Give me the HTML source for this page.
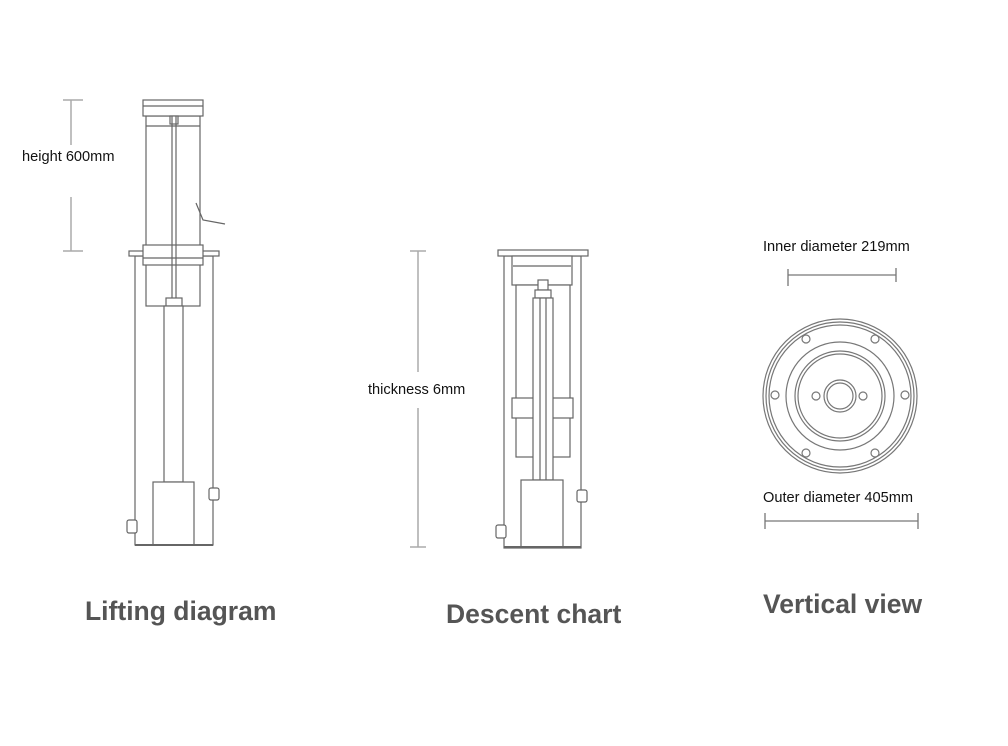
<!DOCTYPE html>
<html><head><style>
body{margin:0;background:#fff}
svg{display:block}
text{font-family:"Liberation Sans",sans-serif}
</style></head><body>
<svg width="1008" height="746" viewBox="0 0 1008 746" xmlns="http://www.w3.org/2000/svg">
<rect width="1008" height="746" fill="#fff"/>
<g stroke="#aaa" stroke-width="1.5" fill="none">
<line x1="71" y1="100" x2="71" y2="145"/><line x1="71" y1="197" x2="71" y2="251"/>
<line x1="63" y1="100" x2="83" y2="100"/><line x1="63" y1="251" x2="83" y2="251"/>
<line x1="418" y1="251" x2="418" y2="372"/><line x1="418" y1="408" x2="418" y2="547"/>
<line x1="410" y1="251" x2="426" y2="251"/><line x1="410" y1="547" x2="426" y2="547"/>
</g>
<g stroke="#777" stroke-width="1.3" fill="none">
<line x1="788" y1="275" x2="896" y2="275"/><line x1="788" y1="269" x2="788" y2="286"/><line x1="896" y1="268" x2="896" y2="282"/>
<line x1="765" y1="521" x2="918" y2="521"/><line x1="765" y1="513" x2="765" y2="529"/><line x1="918" y1="513" x2="918" y2="529"/>
</g>
<g stroke="#666" stroke-width="1.2" fill="#fff">
<rect x="135" y="256" width="78" height="289"/>
<rect x="146" y="116" width="54" height="190"/>
<rect x="143" y="100" width="60" height="16"/>
<line x1="143" y1="106" x2="203" y2="106"/>
<line x1="146" y1="126" x2="200" y2="126"/>
<rect x="170" y="116" width="8" height="8"/>
<rect x="129" y="251" width="90" height="5"/>
<rect x="143" y="245" width="60" height="20"/>
<line x1="143" y1="258" x2="203" y2="258"/>
<line x1="172" y1="116" x2="172" y2="298"/><line x1="176" y1="116" x2="176" y2="298"/>
<rect x="166" y="298" width="16" height="8"/>
<rect x="164" y="306" width="19" height="176"/>
<rect x="153" y="482" width="41" height="63"/>
<rect x="209" y="488" width="10" height="12" rx="2"/>
<rect x="127" y="520" width="10" height="13" rx="2"/>
<line x1="135" y1="545" x2="213" y2="545" stroke-width="2"/>
<polyline points="196,203 203,220 225,224" fill="none"/>
<rect x="504" y="256" width="77" height="292"/>
<rect x="498" y="250" width="90" height="6"/>
<rect x="512" y="256" width="60" height="29"/>
<line x1="513" y1="266" x2="571" y2="266"/>
<rect x="516" y="285" width="54" height="172"/>
<rect x="512" y="398" width="61" height="20"/>
<rect x="538" y="280" width="10" height="10"/>
<rect x="535" y="290" width="16" height="8"/>
<rect x="533" y="298" width="20" height="182"/>
<line x1="540" y1="298" x2="540" y2="480"/><line x1="546" y1="298" x2="546" y2="480"/>
<rect x="521" y="480" width="42" height="67"/>
<rect x="577" y="490" width="10" height="12" rx="2"/>
<rect x="496" y="525" width="10" height="13" rx="2"/>
<line x1="504" y1="547" x2="581" y2="547" stroke-width="2"/>
</g>
<g stroke="#777" stroke-width="1.2" fill="none">
<circle cx="840" cy="396" r="77"/>
<circle cx="840" cy="396" r="74"/>
<circle cx="840" cy="396" r="71"/>
<circle cx="840" cy="396" r="54"/>
<circle cx="840" cy="396" r="45"/>
<circle cx="840" cy="396" r="42"/>
<circle cx="840" cy="396" r="16"/>
<circle cx="840" cy="396" r="13"/>
<circle cx="816" cy="396" r="4"/><circle cx="863" cy="396" r="4"/>
<circle cx="806" cy="339" r="4"/><circle cx="875" cy="339" r="4"/>
<circle cx="806" cy="453" r="4"/><circle cx="875" cy="453" r="4"/>
<circle cx="775" cy="395" r="4"/><circle cx="905" cy="395" r="4"/>
</g>
<g font-size="14.6" fill="#111">
<text x="22" y="161">height 600mm</text>
<text x="368" y="394">thickness 6mm</text>
<text x="763" y="251">Inner diameter 219mm</text>
<text x="763" y="502">Outer diameter 405mm</text>
</g>
<g font-size="26.5" font-weight="bold" fill="#555">
<text x="85" y="620">Lifting diagram</text>
<text x="446" y="623">Descent chart</text>
<text x="763" y="613">Vertical view</text>
</g>
</svg>
</body></html>
